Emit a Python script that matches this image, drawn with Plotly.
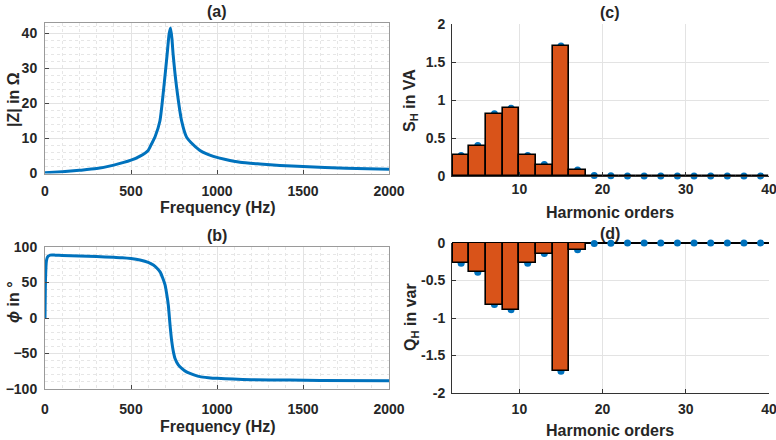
import plotly.graph_objects as go

# ---------------- data ----------------
freq_z = [0, 100, 200, 300, 400, 500, 550, 600, 620, 640, 668, 691, 710, 722, 730,
          738, 745, 765, 794, 823, 850, 901, 940, 979, 1050, 1134, 1250, 1366,
          1500, 1750, 2000]
z_mag = [0.2, 0.5, 0.9, 1.4, 2.4, 3.8, 4.9, 6.6, 8.5, 10.5, 15.0, 24.7, 34.0, 40.0, 41.6,
         38.5, 34.0, 24.7, 15.1, 10.4, 8.8, 6.6, 5.6, 4.9, 4.0, 3.2, 2.7, 2.3,
         2.0, 1.5, 1.2]

freq_phi = [0, 3, 8, 15, 30, 60, 100, 200, 300, 400, 450, 500, 552, 600, 630, 650,
            669, 685, 698, 708, 717, 727, 737, 746, 756, 775, 795, 820, 843, 870,
            901, 950, 1000, 1093, 1200, 1423, 1600, 2000]
phi_deg = [0, 55, 80, 86, 88.5, 88.5, 88, 87.4, 86.5, 85.5, 85, 83.8, 81.7, 78.5, 74.6,
           70.5, 65, 56, 46.5, 33, 18, -10, -33, -47, -57, -66, -71, -75.5, -78, -80.5,
           -82.6, -84, -85, -86, -86.8, -87.5, -88, -88.5]

harmonics = [3, 5, 7, 9, 11, 13, 15, 17, 19, 21, 23, 25, 27, 29, 31, 33, 35, 37, 39]
s_h = [0.27, 0.40, 0.82, 0.89, 0.27, 0.15, 1.71, 0.08, 0.005, 0.002, 0.0, 0.0,
       0.0, 0.0, 0.0, 0.0, 0.0, 0.0, 0.0]
q_h = [-0.27, -0.39, -0.82, -0.89, -0.27, -0.14, -1.71, -0.09, -0.005, -0.002, 0.0,
       0.0, 0.0, 0.0, 0.0, 0.0, 0.0, 0.0, 0.0]

freq_ticks = [0, 500, 1000, 1500, 2000]
harm_ticks = [10, 20, 30, 40]

# ---------------- styling ----------------
W, H = 776, 440
BLUE = "#0072BD"
ORANGE = "#D95319"
TXT = "#262626"
FONT = "Liberation Sans, Arial, sans-serif"
GRID = "#e3e3e3"
MINOR = "#e6e6e6"


def px(x):
    return x / W


def py(y):
    return 1 - y / H


fig = go.Figure()

# (a) impedance magnitude
fig.add_trace(go.Scatter(x=freq_z, y=z_mag, mode="lines", xaxis="x", yaxis="y",
                         line=dict(color=BLUE, width=3, shape="spline", smoothing=0.6),
                         showlegend=False))
# (b) phase
fig.add_trace(go.Scatter(x=freq_phi, y=phi_deg, mode="lines", xaxis="x2", yaxis="y2",
                         line=dict(color=BLUE, width=3, shape="spline", smoothing=0.6),
                         showlegend=False))
# (c) markers (base) + bars (overlay, drawn above)
fig.add_trace(go.Scatter(x=harmonics, y=s_h, mode="markers", xaxis="x3", yaxis="y3",
                         marker=dict(color=BLUE, size=7), cliponaxis=False, showlegend=False))
fig.add_trace(go.Bar(x=harmonics, y=s_h, xaxis="x5", yaxis="y5", width=2,
                     marker=dict(color=ORANGE, line=dict(color="black", width=1.6)),
                     showlegend=False))
# (d)
fig.add_trace(go.Scatter(x=harmonics, y=q_h, mode="markers", xaxis="x4", yaxis="y4",
                         marker=dict(color=BLUE, size=7), cliponaxis=False, showlegend=False))
fig.add_trace(go.Bar(x=harmonics, y=q_h, xaxis="x6", yaxis="y6", width=2,
                     marker=dict(color=ORANGE, line=dict(color="black", width=1.6)),
                     showlegend=False))

tickfont = dict(family=FONT, size=14, color=TXT, weight="bold")

left_x = [px(45), px(389)]
right_x = [px(452), px(769)]
dom_a = [py(173.5), py(23)]
dom_b = [py(389), py(247)]
dom_c = [py(176), py(24)]
dom_d = [py(393), py(243)]


def box_axis(**kw):
    d = dict(showline=True, linecolor="#9a9a9a", linewidth=1, mirror=True,
             ticks="inside", ticklen=4, tickcolor="#444", showgrid=True,
             gridcolor=GRID, gridwidth=1, zeroline=False, tickfont=tickfont,
             automargin=False, ticklabeloverflow="allow")
    d.update(kw)
    return d


def bar_axis(**kw):
    d = dict(showline=True, linecolor="#333", linewidth=1, mirror=False,
             ticks="inside", ticklen=4, tickcolor="#333", showgrid=True,
             gridcolor=GRID, gridwidth=1, zeroline=False, tickfont=tickfont,
             automargin=False, ticklabeloverflow="allow")
    d.update(kw)
    return d


fig.update_layout(
    width=W, height=H, margin=dict(l=0, r=0, t=0, b=0, pad=0, autoexpand=False),
    paper_bgcolor="white", plot_bgcolor="white", bargap=0,
    xaxis=box_axis(domain=left_x, range=[0, 2000], tickvals=freq_ticks, anchor="y",
                   minor=dict(dtick=100, showgrid=True, gridcolor=MINOR, griddash="dot"),
                   ticklabelstandoff=5),
    yaxis=box_axis(domain=dom_a, range=[0, 43], dtick=10, anchor="x",
                   minor=dict(dtick=2, showgrid=True, gridcolor=MINOR, griddash="dot"),
                   ticklabelstandoff=4),
    xaxis2=box_axis(domain=left_x, range=[0, 2000], tickvals=freq_ticks, anchor="y2",
                    minor=dict(dtick=100, showgrid=True, gridcolor=MINOR, griddash="dot"),
                    ticklabelstandoff=7),
    yaxis2=box_axis(domain=dom_b, range=[-100, 100], dtick=50, anchor="x2",
                    minor=dict(dtick=10, showgrid=True, gridcolor=MINOR, griddash="dot"),
                    ticklabelstandoff=4),
    xaxis3=bar_axis(domain=right_x, range=[1.9, 40.01], tickvals=harm_ticks, anchor="y3",
                    ticklabelstandoff=0),
    yaxis3=bar_axis(domain=dom_c, range=[0, 2], tickvals=[0, 0.5, 1, 1.5, 2],
                    ticktext=["0", "0.5", "1", "1.5", "2"], anchor="x3",
                    ticklabelstandoff=3),
    xaxis4=bar_axis(domain=right_x, range=[1.9, 40.01], tickvals=harm_ticks, anchor="y4",
                    ticklabelstandoff=3),
    yaxis4=bar_axis(domain=dom_d, range=[-2, 0], tickvals=[-2, -1.5, -1, -0.5, 0],
                    ticktext=["-2", "-1.5", "-1", "-0.5", "0"], anchor="x4",
                    ticklabelstandoff=3),
    xaxis5=dict(overlaying="x3", range=[1.9, 40.01], visible=False, domain=right_x,
                automargin=False),
    yaxis5=dict(overlaying="y3", range=[0, 2], visible=False, domain=dom_c,
                automargin=False),
    xaxis6=dict(overlaying="x4", range=[1.9, 40.01], visible=False, domain=right_x,
                automargin=False),
    yaxis6=dict(overlaying="y4", range=[-2, 0], showgrid=False, showticklabels=False,
                zeroline=True, zerolinecolor="black", zerolinewidth=2, domain=dom_d,
                ticks="", automargin=False),
)

ann = []


def add_text(text, x, y, size=16, angle=0):
    ann.append(dict(text=f"<b>{text}</b>", x=px(x), y=py(y), xref="paper", yref="paper",
                    showarrow=False, textangle=angle, xanchor="center", yanchor="middle",
                    font=dict(family=FONT, size=size, color=TXT)))


add_text("(a)", 217, 12)
add_text("(b)", 217, 235)
add_text("(c)", 610, 13)
add_text("(d)", 610, 233)
add_text("Frequency (Hz)", 218, 208)
add_text("Frequency (Hz)", 218, 426)
add_text("Harmonic orders", 610, 212)
add_text("Harmonic orders", 610, 430)
add_text("|Z| in Ω", 14, 99, angle=-90)
add_text("<i>ϕ</i> in °", 13, 302, angle=-90)
add_text("S<sub>H</sub> in VA", 411, 101, angle=-90)
add_text("Q<sub>H</sub> in var", 411, 317, angle=-90)
fig.update_layout(annotations=ann)

fig.write_html("out.html", config={"displayModeBar": False},
               post_script="document.body.style.margin='0';"
                           "document.body.style.overflow='hidden';")
